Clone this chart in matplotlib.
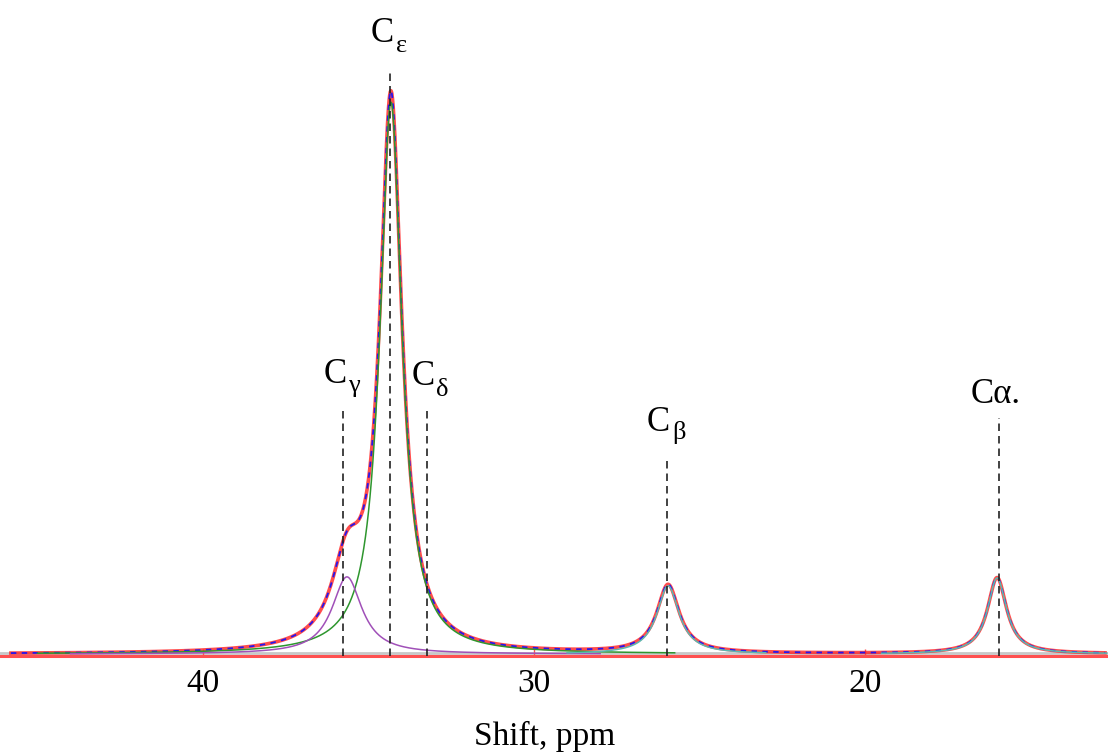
import numpy as np
import matplotlib
matplotlib.use("Agg")
import matplotlib.pyplot as plt
from matplotlib.transforms import offset_copy

# ---- data -------------------------------------------------------------
# Lorentzian components of the 13C spectrum (centre ppm, height, half-width ppm)
comp_names = ["Cε", "Cγ", "Cβ", "Cα"]
comp_center = [34.32, 35.65, 25.95, 16.01]
comp_height = [98.0, 13.7, 12.1, 13.5]
comp_hwhm = [0.40, 0.55, 0.41, 0.35]
comp_range = [(45.0, 25.75), (44.0, 28.0), (29.0, 23.0), (19.5, 12.7)]

# assignment markers: label, position (ppm), top of dashed line (height units)
marker_labels = ["C", "C", "C", "C", "Cα."]
marker_subs = ["ε", "γ", "δ", "β", ""]
marker_ppm = [34.35, 35.77, 33.23, 25.98, 15.95]
marker_top = [103.7, 43.7, 43.7, 34.8, 41.9]

tick_values = [40, 30, 20]
tick_labels = ["40", "30", "20"]
spectrum_span = (45.8, 12.75)

# ---- figure ----------------------------------------------------------
DPI = 100
fig = plt.figure(figsize=(11.08, 7.53), dpi=DPI)
ax = fig.add_axes([0.0, 1 - 656 / 753, 1.0, 656 / 753])
ax.set_xlim(46.13, 12.66)
ax.set_ylim(-0.355, 116.16)

serif = "Liberation Serif"


def lorentz(x, c, h, w):
    return h / (1.0 + ((x - c) / w) ** 2)


ppm = np.linspace(spectrum_span[0], spectrum_span[1], 6000)
total = np.zeros_like(ppm)
for c, h, w in zip(comp_center, comp_height, comp_hwhm):
    total += lorentz(ppm, c, h, w)

# baseline
ax.axhline(0.2, color="#c8c8c8", lw=2.0, zorder=1)

# measured spectrum (red) and fitted envelope (blue)
ax.plot(ppm, total, color="#ff2020", lw=2.6, alpha=0.8, zorder=3)
ax.plot(ppm, total, color="#1010ff", lw=1.3, alpha=0.9, zorder=4,
        ls=(0, (3, 3)))

comp_colors = ["#2e962e", "#a050b8", "#5cb8b0", "#5cb8b0"]
for c, h, w, (a, b), col in zip(comp_center, comp_height, comp_hwhm,
                                 comp_range, comp_colors):
    xs = np.linspace(a, b, 3000)
    ax.plot(xs, lorentz(xs, c, h, w), color=col, lw=1.1, zorder=5)

# dashed assignment lines
for x, top in zip(marker_ppm, marker_top):
    ax.plot([x, x], [-0.355, top], color="#222222", lw=1.2,
            ls=(0, (4.5, 3)), zorder=6, clip_on=False)

# labels: offsets in pixels (dx, up) for main letter and subscript
label_offsets = [(-19, 28), (-19, 25), (-15, 23), (-20, 27), (-28, 15)]
sub_offsets = [(6, 18), (5, 16), (9, 12), (5, 19), None]
for lab, sub, x, top, off, soff in zip(marker_labels, marker_subs, marker_ppm,
                                       marker_top, label_offsets, sub_offsets):
    tr = offset_copy(ax.transData, fig=fig, x=off[0], y=off[1], units="dots")
    ax.text(x, top, lab, transform=tr, ha="left", va="baseline",
            fontsize=25, family=serif, color="black")
    if sub:
        tr2 = offset_copy(ax.transData, fig=fig, x=soff[0], y=soff[1],
                          units="dots")
        ax.text(x, top, sub, transform=tr2, ha="left", va="baseline",
                fontsize=19, family=serif, color="black")

# axes styling
for side in ["top", "right", "left"]:
    ax.spines[side].set_visible(False)
ax.spines["bottom"].set_color("#ff5050")
ax.spines["bottom"].set_linewidth(2.2)
ax.set_yticks([])
ax.set_xticks(tick_values)
ax.set_xticklabels(tick_labels, fontsize=24, family=serif)
ax.tick_params(axis="x", direction="in", length=5, width=1,
               color="#ff5050", pad=9)
ax.set_xlabel("Shift, ppm", fontsize=24, family=serif, va="center")
ax.xaxis.set_label_coords(545 / 1108, -(736 - 656) / 656)

fig.savefig("out.png", dpi=DPI)
